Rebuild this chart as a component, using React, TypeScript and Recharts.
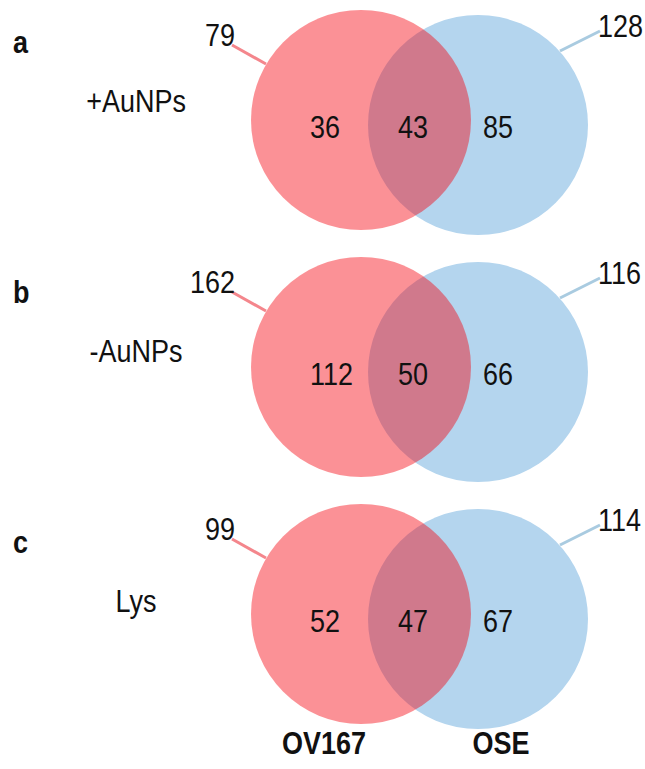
import React from "react";
import { ScatterChart, Scatter, XAxis, YAxis, ReferenceLine } from "recharts";

// values
const PANELS = ["a", "b", "c"];
const CONDITIONS = ["+AuNPs", "-AuNPs", "Lys"];
const SETS = ["OV167", "OSE"];
const OV167_ONLY = [36, 112, 52];
const SHARED = [43, 50, 47];
const OSE_ONLY = [85, 66, 67];
const OV167_TOTAL = [79, 162, 99];
const OSE_TOTAL = [128, 116, 114];

// layout (pixels, 1:1 with the axes domain)
const W = 645;
const H = 769;
const R = 110;
const RED_CX = 361;
const BLUE_CX = 478;
const FIRST_CY = 120;
const STEP = 247;
const BLUE_DY = 5;
const FONT = '"Liberation Sans", Arial, sans-serif';
const STRETCH = 1.15; // glyphs in the figure are a bit taller than Arial

const RED_FILL = "#f5010b";
const RED_OPACITY = 0.43;
const BLUE_FILL = "#b4d5ee";
const RED_LEADER = "#f4868c";
const BLUE_LEADER = "#a9cbe0";

const redCy = (i: number) => FIRST_CY + i * STEP;
const blueCy = (i: number) => redCy(i) + BLUE_DY;

const redCircles = PANELS.map((p, i) => ({ x: RED_CX, y: redCy(i), key: p }));
const blueCircles = PANELS.map((p, i) => ({ x: BLUE_CX, y: blueCy(i), key: p }));

const texts = [
  ...PANELS.map((p, i) => ({ x: 13, y: redCy(i) - 67 + i * 3, label: p, anchor: "start", bold: true })),
  ...CONDITIONS.map((c, i) => ({ x: 136, y: redCy(i) - 8 + i * 3, label: c, anchor: "middle", bold: false })),
  ...OV167_ONLY.map((v, i) => ({ x: 310, y: redCy(i) + 18, label: String(v), anchor: "start", bold: false })),
  ...SHARED.map((v, i) => ({ x: 398, y: redCy(i) + 18, label: String(v), anchor: "start", bold: false })),
  ...OSE_ONLY.map((v, i) => ({ x: 483, y: redCy(i) + 18, label: String(v), anchor: "start", bold: false })),
  ...OV167_TOTAL.map((v, i) => ({ x: RED_CX - 126, y: redCy(i) - 74, label: String(v), anchor: "end", bold: false })),
  ...OSE_TOTAL.map((v, i) => ({ x: BLUE_CX + 120, y: blueCy(i) - 88, label: String(v), anchor: "start", bold: false })),
  { x: 324, y: 754, label: SETS[0], anchor: "middle", bold: true },
  { x: 501, y: 754, label: SETS[1], anchor: "middle", bold: true },
];

const Circle = (fill: string, opacity: number) => (props: any) => (
  <circle cx={props.cx} cy={props.cy} r={R} fill={fill} fillOpacity={opacity} />
);

const Label = (props: any) => {
  const d = props.payload;
  return (
    <text
      transform={`translate(${props.cx},${props.cy}) scale(1,${STRETCH})`}
      x={0}
      y={0}
      textAnchor={d.anchor}
      fontFamily={FONT}
      fontSize={27}
      fontWeight={d.bold ? "bold" : "normal"}
      fill="#111"
    >
      {d.label}
    </text>
  );
};

export default function App() {
  return (
    <div style={{ position: "absolute", left: 0, top: 0, background: "#fff" }}>
      <ScatterChart width={W} height={H} margin={{ top: 0, right: 0, bottom: 0, left: 0 }}>
        <XAxis type="number" dataKey="x" domain={[0, W]} hide allowDataOverflow />
        <YAxis type="number" dataKey="y" domain={[0, H]} reversed hide allowDataOverflow />
        <Scatter data={blueCircles} shape={Circle(BLUE_FILL, 1)} isAnimationActive={false} />
        <Scatter data={redCircles} shape={Circle(RED_FILL, RED_OPACITY)} isAnimationActive={false} />
        {PANELS.map((p, i) => (
          <ReferenceLine
            key={"rl" + p}
            segment={[
              { x: RED_CX - 129, y: redCy(i) - 75 },
              { x: RED_CX - 95, y: redCy(i) - 56 },
            ]}
            stroke={RED_LEADER}
            strokeWidth={3}
          />
        ))}
        {PANELS.map((p, i) => (
          <ReferenceLine
            key={"bl" + p}
            segment={[
              { x: BLUE_CX + 122, y: blueCy(i) - 94 },
              { x: BLUE_CX + 82, y: blueCy(i) - 74 },
            ]}
            stroke={BLUE_LEADER}
            strokeWidth={3}
          />
        ))}
        <Scatter data={texts} shape={Label} isAnimationActive={false} />
      </ScatterChart>
    </div>
  );
}
